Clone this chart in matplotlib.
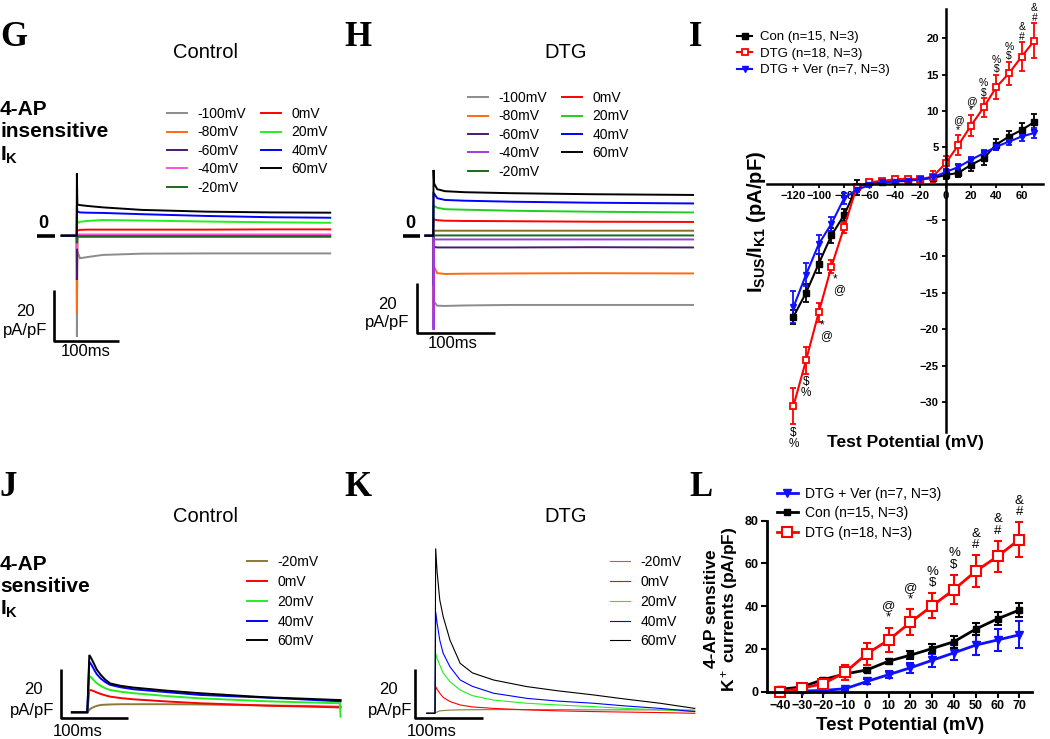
import matplotlib
matplotlib.use("Agg")
import matplotlib.pyplot as plt
from matplotlib.lines import Line2D

plt.rcParams["font.family"] = ["Liberation Sans", "DejaVu Sans"]
plt.rcParams["mathtext.fontset"] = "custom"
plt.rcParams["mathtext.rm"] = "Liberation Sans"
plt.rcParams["mathtext.bf"] = "Liberation Sans:bold"
plt.rcParams["mathtext.it"] = "Liberation Sans:italic"

# ================= data: I (Isus / IK1 vs test potential) =================
V_I = [-120, -110, -100, -90, -80, -70, -60, -50, -40, -30, -20, -10, 0, 10, 20, 30, 40, 50, 60, 70]
CON_I = [-18.3, -15.0, -11.0, -7.1, -4.3, -0.5, 0.2, 0.3, 0.4, 0.5, 0.6, 0.8, 1.2, 1.5, 2.6, 3.5, 5.4, 6.5, 7.4, 8.5]
CON_I_ERR = [1.0, 1.2, 1.3, 1.0, 0.8, 1.0, 0.3, 0.2, 0.2, 0.2, 0.2, 0.3, 0.5, 0.6, 0.8, 0.9, 0.7, 0.8, 0.9, 1.1]
DTG_I = [-30.6, -24.3, -17.7, -11.4, -6.0, -0.4, 0.2, 0.4, 0.6, 0.7, 0.6, 1.0, 2.8, 5.3, 8.0, 10.5, 13.3, 15.2, 17.5, 19.7]
DTG_I_ERR = [2.5, 1.8, 1.3, 0.9, 0.8, 0.4, 0.3, 0.2, 0.3, 0.3, 0.3, 0.7, 1.0, 1.4, 1.4, 1.3, 1.7, 1.6, 2.0, 2.4]
VER_I = [-17.0, -12.5, -8.3, -5.5, -2.0, -0.8, -0.2, 0.2, 0.3, 0.4, 0.6, 0.9, 1.6, 2.3, 3.3, 4.2, 5.1, 5.8, 6.5, 7.0]
VER_I_ERR = [2.2, 1.6, 1.3, 1.0, 0.8, 0.3, 0.2, 0.2, 0.2, 0.2, 0.2, 0.3, 0.4, 0.4, 0.4, 0.5, 0.5, 0.5, 0.6, 0.7]
I_MARK_UP = {10: "@\n*", 20: "@\n*", 30: "%\n$", 40: "%\n$", 50: "%\n$", 60: "&\n#", 70: "&\n#"}
I_MARK_DOWN = {-120: "$\n%", -110: "$\n%"}
I_MARK_SIDE = {-100: "*\n@", -90: "*\n@"}

# ================= data: L (4-AP sensitive K+ currents) =================
V_L = [-40, -30, -20, -10, 0, 10, 20, 30, 40, 50, 60, 70]
DTG_L = [0, 1.6, 3.8, 9.1, 17.8, 24.2, 32.5, 40.2, 47.8, 56.4, 63.3, 71.2]
DTG_L_ERR = [0.5, 0.8, 1.5, 3.4, 5.2, 5.7, 6.0, 5.8, 6.8, 7.4, 7.3, 8.0]
CON_L = [1.1, 2.2, 5.7, 8.3, 10.2, 14.3, 17.1, 20.2, 23.4, 29.3, 34.1, 38.2]
CON_L_ERR = [0.8, 0.8, 0.8, 0.8, 1.0, 1.2, 1.8, 2.2, 2.8, 2.8, 3.0, 3.3]
VER_L = [0.3, 0.3, 0.6, 1.4, 4.8, 8.0, 11.2, 14.7, 18.2, 21.8, 24.2, 26.6]
VER_L_ERR = [0.3, 0.3, 0.4, 0.5, 1.0, 1.8, 2.3, 3.0, 3.6, 4.5, 5.0, 6.3]
L_MARK_UP = {10: "@\n*", 20: "@\n*", 30: "%\n$", 40: "%\n$", 50: "&\n#", 60: "&\n#", 70: "&\n#"}

LBL_CON = "Con (n=15, N=3)"
LBL_DTG = "DTG (n=18, N=3)"
LBL_VER = "DTG + Ver (n=7, N=3)"

# ================= data: current traces (ms, pA/pF) =================
STEP_LABELS = ["-100mV", "-80mV", "-60mV", "-40mV", "-20mV", "0mV", "20mV", "40mV", "60mV"]

# G: 4-AP insensitive, control  (baseline, step, spike, then decay)
G_T = [-23, 0, 0.3, 1, 5, 15, 40, 100, 200, 300, 390]
G_TRACES = [
    [0, 0, -40.0, -6.0, -8.9, -8.5, -7.6, -7.1, -7.0, -7.0, -7.0],
    [0, 0, -30.7, -0.3, -0.3, -0.3, -0.3, -0.3, -0.3, -0.3, -0.3],
    [0, 0, -17.5, 0.1, 0.1, 0.1, 0.1, 0.1, 0.1, 0.1, 0.1],
    [0, 0, -5.0, 0.5, 0.5, 0.5, 0.5, 0.5, 0.5, 0.5, 0.5],
    [0, 0, -3.0, -0.4, -0.4, -0.4, -0.4, -0.4, -0.4, -0.4, -0.4],
    [0, 0, 3.5, 2.0, 2.3, 2.4, 2.4, 2.4, 2.4, 2.5, 2.5],
    [0, 0, 8.2, 5.0, 5.5, 5.8, 6.2, 6.0, 5.6, 5.3, 5.1],
    [0, 0, 12.0, 9.5, 9.2, 9.1, 9.0, 8.5, 7.8, 7.3, 7.1],
    [0, 0, 24.6, 12.3, 12.1, 11.8, 11.2, 10.2, 9.5, 9.2, 9.1],
]
G_COLORS = ["#8c8c8c", "#ff6a13", "#4b1a6e", "#ff4fdc", "#1b6a1b", "#ff0000", "#22ee22", "#0000ff", "#000000"]

# H: 4-AP insensitive, DTG (one extra unlabelled brown sweep)
H_T = [-10, 0, 0.3, 1, 5, 15, 40, 100, 200, 333]
H_TRACES = [
    [0, 0, -37.0, -26.4, -28.0, -28.1, -27.9, -27.7, -27.7, -27.7],
    [0, 0, -30.0, -12.4, -15.0, -15.3, -15.2, -15.1, -15.0, -15.1],
    [0, 0, -20.0, -4.5, -4.7, -4.7, -4.7, -4.7, -4.6, -4.7],
    [0, 0, 2.0, 2.0, 2.0, 2.0, 2.0, 2.0, 2.0, 2.0],
    [0, 0, -2.0, 0.1, 0.1, 0.1, 0.1, 0.1, 0.1, 0.1],
    [0, 0, -37.7, -1.5, -1.5, -1.5, -1.5, -1.5, -1.5, -1.5],
    [0, 0, 7.0, 6.5, 6.2, 6.0, 5.9, 5.8, 5.6, 5.5],
    [0, 0, 12.0, 11.9, 11.2, 10.6, 10.4, 10.0, 9.6, 9.3],
    [0, 0, 17.0, 16.9, 15.0, 14.3, 14.0, 13.6, 13.2, 12.9],
    [0, 0, 26.3, 20.9, 18.6, 17.8, 17.4, 17.0, 16.6, 16.3],
]
H_LABELS = ["-100mV", "-80mV", "-60mV", "_brown", "-20mV", "-40mV", "0mV", "20mV", "40mV", "60mV"]
H_COLORS = ["#8c8c8c", "#ff6a13", "#4b1a6e", "#8b6b2a", "#1b6a1b", "#a23ae0", "#ff0000", "#22cc22", "#0000ff", "#000000"]

SENS_LABELS = ["-20mV", "0mV", "20mV", "40mV", "60mV"]

# J: 4-AP sensitive, control
J_T = [-23, 0, 3, 6, 10, 14, 20, 27, 34, 50, 69, 120, 168, 220, 268, 320, 377, 378]
J_TRACES = [
    [0, 0, 1.0, 1.7, 2.2, 2.6, 3.0, 3.1, 3.2, 3.3, 3.3, 3.3, 3.2, 3.0, 2.8, 2.6, 2.3, 2.3],
    [0, 0, 9.1, 9.0, 8.6, 8.1, 7.5, 6.9, 6.4, 5.8, 5.3, 4.4, 3.7, 3.2, 2.7, 2.4, 2.0, 2.0],
    [0, 0, 14.8, 14.2, 13.0, 11.9, 10.8, 9.8, 9.1, 8.4, 7.8, 6.6, 5.7, 5.1, 4.5, 4.1, 3.7, -1.8],
    [0, 0, 20.7, 19.5, 17.5, 15.6, 13.8, 12.3, 11.2, 10.2, 9.4, 8.2, 7.1, 6.5, 6.0, 5.3, 4.5, 4.5],
    [0, 0, 23.4, 22.0, 19.8, 17.5, 15.3, 13.3, 11.8, 10.8, 10.1, 8.8, 7.8, 6.9, 6.1, 5.6, 5.0, 5.0],
]
J_COLORS = ["#8b7a3c", "#ff0000", "#22ee22", "#0000ff", "#000000"]

# K: 4-AP sensitive, DTG
K_T = [-12, 0, 1, 3, 7, 12, 22, 37, 55, 86, 135, 180, 233, 280, 331, 382]
K_TRACES = [
    [0, 0, 0.3, 0.5, 1.0, 1.1, 1.3, 1.4, 1.45, 1.5, 1.5, 1.5, 1.4, 1.4, 1.4, 1.3],
    [0, 0, 10.9, 9.8, 8.2, 6.5, 4.8, 3.4, 2.6, 2.0, 1.4, 1.0, 0.7, 0.5, 0.3, 0.0],
    [0, 0, 24.5, 22.5, 19.7, 16.5, 12.9, 9.5, 7.2, 5.4, 4.1, 3.4, 2.7, 2.0, 1.4, 0.7],
    [0, 0, 41.5, 37.0, 29.9, 24.5, 19.0, 13.6, 11.0, 8.2, 6.1, 5.0, 4.1, 3.0, 2.0, 0.7],
    [0, 0, 67.3, 58.0, 46.3, 39.5, 29.9, 20.4, 16.5, 13.6, 10.9, 9.2, 7.5, 5.8, 4.1, 2.0],
]
K_COLORS = ["#8b7a3c", "#ff0000", "#22ee22", "#0000ff", "#000000"]

SCALE_T = 100   # ms
SCALE_I = 20    # pA/pF

W, H = 1050, 739
fig = plt.figure(figsize=(W / 100, H / 100), dpi=100)


def fx(px):
    return px / W


def fy(py):
    return 1 - py / H


def trace_ax(l, t, w, h, ox, oy, sx, sy):
    # axes laid out in pixels; ox/oy = pixel of (0 ms, 0 pA/pF), sx/sy = px per unit
    ax = fig.add_axes([l / W, 1 - (t + h) / H, w / W, h / H])
    ax.set_xlim((l - ox) / sx, (l + w - ox) / sx)
    ax.set_ylim((oy - (t + h)) / sy, (oy - t) / sy)
    ax.axis("off")
    return ax


def draw_traces(ax, t, traces, colors, labels, lw):
    lines = {}
    for vals, c, lab in zip(traces, colors, labels):
        lines[lab], = ax.plot(t, vals, color=c, lw=lw, label=lab, solid_joinstyle="miter")
    return lines


def scale_bar(ax, x0, y0):
    ax.plot([x0, x0, x0 + SCALE_T], [y0 + SCALE_I, y0, y0], color="black", lw=1.9,
            solid_capstyle="butt", clip_on=False)


def zero_mark(ax, x0, x1, txt_x, txt_y):
    ax.plot([x0, x1], [0, 0], color="black", lw=2.6, solid_capstyle="butt", clip_on=False)
    fig.text(fx(txt_x), fy(txt_y), "0", fontsize=13, fontweight="bold", ha="center", va="center")


def trace_legend(ax, lines, labels, x, y, ncol, labelspacing):
    ax.legend([lines[k] for k in labels], labels, loc="upper left",
              bbox_to_anchor=(fx(x), fy(y)), bbox_transform=fig.transFigure,
              frameon=False, ncol=ncol, fontsize=10, handlelength=1.45, handletextpad=0.75,
              columnspacing=1.05, labelspacing=labelspacing, borderpad=0, borderaxespad=0)


def scale_text(x20, y20, xpa, ypa, xms, yms):
    fig.text(fx(x20), fy(y20), "20", fontsize=12, ha="center", va="center")
    fig.text(fx(xpa), fy(ypa), "pA/pF", fontsize=12, ha="center", va="center")
    fig.text(fx(xms), fy(yms), "100ms", fontsize=12, ha="center", va="center")


# ====== G ======
axG = trace_ax(30, 90, 320, 260, 76.7, 235.7, 0.65, 2.53)
gl = draw_traces(axG, G_T, G_TRACES, G_COLORS, STEP_LABELS, 1.4)
scale_bar(axG, -34.5, -41.5)
zero_mark(axG, -61, -33.4, 43, 224)
trace_legend(axG, gl, STEP_LABELS, 167, 107, 2, 0.32)
scale_text(25, 312, 25, 330, 86, 352)

# ====== H ======
axH = trace_ax(395, 80, 310, 265, 433.3, 235.7, 0.78, 2.5)
hl = draw_traces(axH, H_T, H_TRACES, H_COLORS, H_LABELS, 1.4)
scale_bar(axH, -20.5, -39.0)
zero_mark(axH, -38.8, -17.1, 410, 224)
trace_legend(axH, hl, STEP_LABELS, 468, 91, 2, 0.32)
scale_text(387, 304, 387, 323, 453, 343)

# ====== J ======
axJ = trace_ax(50, 540, 300, 199, 87.3, 712.3, 0.67, 2.45)
jl = draw_traces(axJ, J_T, J_TRACES, J_COLORS, SENS_LABELS, 1.4)
scale_bar(axJ, -39.7, -2.4)
trace_legend(axJ, jl, SENS_LABELS, 246.7, 555, 1, 0.42)
scale_text(33, 690, 32, 711, 78, 732)

# ====== K ======
axK = trace_ax(405, 520, 300, 219, 435, 713.3, 0.68, 2.45)
kl = draw_traces(axK, K_T, K_TRACES, K_COLORS, SENS_LABELS, 0.8)
scale_bar(axK, -29.4, -2.0)
trace_legend(axK, kl, SENS_LABELS, 610, 555, 1, 0.42)
scale_text(388, 690, 390, 710, 432, 732)

# ====== I ======
axI = fig.add_axes([fx(766.7), fy(431.7), (1043 - 766.7) / W, (431.7 - 9.3) / H])
axI.set_xlim(-141, 76.8)
axI.set_ylim(-34.1, 24.0)
err_kw = dict(capsize=2.5, elinewidth=1.3, capthick=1.3, lw=1.5, clip_on=False)
axI.errorbar(V_I, CON_I, yerr=CON_I_ERR, color="black", marker="s", ms=3.8, **err_kw)
axI.errorbar(V_I, DTG_I, yerr=DTG_I_ERR, color="#ff0000", marker="s", ms=5, mfc="white",
             mew=1.3, **err_kw)
axI.errorbar(V_I, VER_I, yerr=VER_I_ERR, color="#1010ff", marker="v", ms=4.5, **err_kw)
for v, txt in I_MARK_UP.items():
    i = V_I.index(v)
    axI.annotate(txt, (v, DTG_I[i] + DTG_I_ERR[i]), xytext=(0, 0.3), textcoords="offset points",
                 ha="center", va="bottom", fontsize=7.5, linespacing=0.92)
for v, txt in I_MARK_DOWN.items():
    i = V_I.index(v)
    axI.annotate(txt, (v, DTG_I[i] - DTG_I_ERR[i]), xytext=(0, -2), textcoords="offset points",
                 ha="center", va="top", fontsize=8.5, linespacing=0.9)
for v, txt in I_MARK_SIDE.items():
    i = V_I.index(v)
    axI.annotate(txt, (v, DTG_I[i]), xytext=(1, -5), textcoords="offset points",
                 ha="left", va="top", fontsize=8.5, linespacing=0.8)
for s in ["top", "right"]:
    axI.spines[s].set_visible(False)
axI.spines["left"].set_position(("data", 0))
axI.spines["bottom"].set_position(("data", 0))
axI.spines["left"].set_linewidth(1.8)
axI.spines["bottom"].set_linewidth(1.8)
axI.set_xticks([-120, -100, -80, -60, -40, -20, 0, 20, 40, 60])
axI.set_yticks([-30, -25, -20, -15, -10, -5, 5, 10, 15, 20])
axI.tick_params(direction="out", length=3, width=1.3, labelsize=8, pad=2)
for lbl in axI.get_xticklabels() + axI.get_yticklabels():
    lbl.set_fontweight("bold")
axI.legend(handles=[Line2D([], [], color="black", marker="s", ms=3.8, lw=1.5),
                    Line2D([], [], color="#ff0000", marker="s", ms=5, mfc="white", mew=1.3, lw=1.5),
                    Line2D([], [], color="#1010ff", marker="v", ms=4.5, lw=1.5)],
           labels=[LBL_CON, LBL_DTG, LBL_VER], loc="upper left",
           bbox_to_anchor=(fx(737), fy(31)), bbox_transform=fig.transFigure, frameon=False,
           fontsize=9.5, handlelength=1.15, handletextpad=0.6, labelspacing=0.33,
           borderpad=0, borderaxespad=0)
fig.text(fx(757), fy(222), r"$\mathbf{I_{SUS}/I_{K1}}$ (pA/pF)", rotation=90, fontsize=14.5,
         fontweight="bold", ha="center", va="center")
fig.text(fx(905), fy(443), "Test Potential (mV)", fontsize=12.5, fontweight="bold",
         ha="center", va="center")

# ====== L ======
axL = fig.add_axes([fx(767.3), fy(691.7), (1031.7 - 767.3) / W, (691.7 - 520.7) / H])
axL.set_xlim(-45.8, 75.7)
axL.set_ylim(0, 80)
err_kw = dict(capsize=3, elinewidth=1.5, capthick=1.5, lw=2, clip_on=False)
axL.errorbar(V_L, VER_L, yerr=VER_L_ERR, color="#1010ff", marker="v", ms=5.5, **err_kw)
axL.errorbar(V_L, CON_L, yerr=CON_L_ERR, color="black", marker="s", ms=4.5, **err_kw)
axL.errorbar(V_L, DTG_L, yerr=DTG_L_ERR, color="#ff0000", marker="s", ms=7, mfc="white",
             mew=1.5, **err_kw)
for v, txt in L_MARK_UP.items():
    i = V_L.index(v)
    axL.annotate(txt, (v, DTG_L[i] + DTG_L_ERR[i]), xytext=(0, 3), textcoords="offset points",
                 ha="center", va="bottom", fontsize=9.5, linespacing=0.95)
for s in ["top", "right"]:
    axL.spines[s].set_visible(False)
axL.spines["left"].set_linewidth(2)
axL.spines["bottom"].set_linewidth(2)
axL.set_xticks(V_L)
axL.set_yticks([0, 20, 40, 60, 80])
axL.tick_params(direction="out", length=4, width=1.5, labelsize=9, pad=2)
for lbl in axL.get_xticklabels() + axL.get_yticklabels():
    lbl.set_fontweight("bold")
axL.legend(handles=[Line2D([], [], color="#1010ff", marker="v", ms=5.5, lw=2),
                    Line2D([], [], color="black", marker="s", ms=4.5, lw=2),
                    Line2D([], [], color="#ff0000", marker="s", ms=7, mfc="white", mew=1.5, lw=2)],
           labels=[LBL_VER, LBL_CON, LBL_DTG], loc="upper left",
           bbox_to_anchor=(fx(776.7), fy(487)), bbox_transform=fig.transFigure, frameon=False,
           fontsize=10, handlelength=1.55, handletextpad=0.5, labelspacing=0.38,
           borderpad=0, borderaxespad=0)
fig.text(fx(722), fy(609), "4-AP sensitive\nK$^+$ currents (pA/pF)", rotation=90, fontsize=12.5,
         fontweight="bold", ha="center", va="center", linespacing=1.05)
fig.text(fx(900), fy(726), "Test Potential (mV)", fontsize=13.5, fontweight="bold",
         ha="center", va="center")

# ====== titles / side labels / panel letters ======
for x, y, txt in [(206, 53, "Control"), (566, 53, "DTG"), (206, 517, "Control"), (566, 517, "DTG")]:
    fig.text(fx(x), fy(y), txt, fontsize=14.5, ha="center", va="center")
fig.text(0, fy(100), "4-AP\ninsensitive\n" + r"$\mathbf{I_K}$", fontsize=15, fontweight="bold",
         ha="left", va="top", linespacing=1.2)
fig.text(0, fy(555), "4-AP\nsensitive\n" + r"$\mathbf{I_K}$", fontsize=15, fontweight="bold",
         ha="left", va="top", linespacing=1.2)
for x, y, txt in [(14, 38, "G"), (358, 38, "H"), (696, 38, "I"),
                  (8, 487, "J"), (358, 487, "K"), (701, 488, "L")]:
    fig.text(fx(x), fy(y), txt, fontsize=25, fontweight="bold", family="Liberation Serif",
             ha="center", va="center")

fig.savefig("out.png", dpi=100)
